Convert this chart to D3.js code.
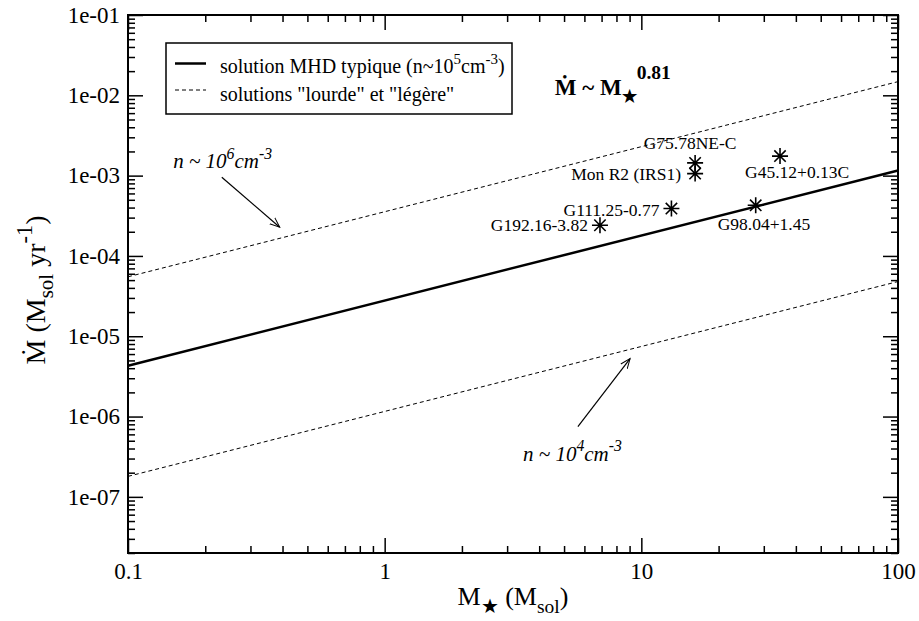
<!DOCTYPE html>
<html><head><meta charset="utf-8">
<script src="https://cdn.jsdelivr.net/npm/d3@7"></script>
<style>
html,body{margin:0;padding:0;background:#fff;}
svg text, svg tspan{font-family:"Liberation Serif","Times New Roman","DejaVu Serif",serif !important;}
</style></head>
<body><svg id="c" width="919" height="621"></svg>
<script>
// ---- data ----
const massRange = [0.1, 100];
const mdotTypical = [4.3e-6, 1.16e-3];   // solution MHD typique (n~1e5)
const mdotHeavy   = [5.5e-5, 1.48e-2];   // n~1e6
const mdotLight   = [1.8e-7, 4.8e-5];    // n~1e4
const objNames = ["G75.78NE-C","Mon R2 (IRS1)","G45.12+0.13C","G111.25-0.77","G192.16-3.82","G98.04+1.45"];
const objMass  = [16.2, 16.2, 34.7, 13.1, 6.9, 27.9];
const objMdot  = [1.44e-3, 1.06e-3, 1.75e-3, 3.89e-4, 2.41e-4, 4.27e-4];
const xTickValues = [0.1, 1, 10, 100];
const xTickLabels = ["0.1", "1", "10", "100"];
const yTickValues = [1e-7, 1e-6, 1e-5, 1e-4, 1e-3, 1e-2, 1e-1];
const yTickLabels = ["1e-07","1e-06","1e-05","1e-04","1e-03","1e-02","1e-01"];
const xDomain = [0.1, 100];
const yDomain = [2e-8, 1e-1];
// annotation anchors (data coordinates)
const annHeavy = {text:[0.15,1.24e-3], tail:[0.232,9.55e-4], head:[0.39,2.28e-4]};
const annLight = {text:[3.46,2.82e-7], tail:[5.66,7.5e-7], head:[9.04,5.28e-6]};
const formulaPos = [4.6, 1.0e-2];

// ---- layout ----
const L=128, R=898, T=15, B=553;
const svg = d3.select("#c");
const x = d3.scaleLog().domain(xDomain).range([L,R]);
const y = d3.scaleLog().domain(yDomain).range([B,T]);

// minor ticks
const xMinor=[], yMinor=[];
for (let k=-1;k<=1;k++) for (let m=2;m<=9;m++) xMinor.push(m*Math.pow(10,k));
for (let k=-8;k<=-2;k++) for (let m=2;m<=9;m++){const v=m*Math.pow(10,k); if(v>=yDomain[0]*0.999 && v<=yDomain[1]) yMinor.push(v);}

function styleAxis(g){ g.select(".domain").remove(); g.selectAll(".tick line").attr("stroke","#000").attr("stroke-width",1.5); }

const axes = [
  [d3.axisBottom(x).tickValues(xTickValues).tickSizeInner(-15).tickSizeOuter(0).tickPadding(10).tickFormat((d,i)=>xTickLabels[i]), `translate(0,${B})`],
  [d3.axisBottom(x).tickValues(xMinor).tickSizeInner(-7).tickSizeOuter(0).tickFormat(""), `translate(0,${B})`],
  [d3.axisTop(x).tickValues(xTickValues).tickSizeInner(-15).tickSizeOuter(0).tickFormat(""), `translate(0,${T})`],
  [d3.axisTop(x).tickValues(xMinor).tickSizeInner(-7).tickSizeOuter(0).tickFormat(""), `translate(0,${T})`],
  [d3.axisLeft(y).tickValues(yTickValues).tickSizeInner(-15).tickSizeOuter(0).tickPadding(8).tickFormat((d,i)=>yTickLabels[i]), `translate(${L},0)`],
  [d3.axisLeft(y).tickValues(yMinor).tickSizeInner(-7).tickSizeOuter(0).tickFormat(""), `translate(${L},0)`],
  [d3.axisRight(y).tickValues(yTickValues).tickSizeInner(-15).tickSizeOuter(0).tickFormat(""), `translate(${R},0)`],
  [d3.axisRight(y).tickValues(yMinor).tickSizeInner(-7).tickSizeOuter(0).tickFormat(""), `translate(${R},0)`]
];
axes.forEach(([ax,tr])=>{
  const g = svg.append("g").attr("transform",tr).call(ax).call(styleAxis);
  g.attr("font-family","Liberation Serif");
  g.selectAll("text").attr("font-size",23).attr("fill","#000");
});

// frame
svg.append("rect").attr("x",L).attr("y",T).attr("width",R-L).attr("height",B-T)
  .attr("fill","none").attr("stroke","#000").attr("stroke-width",2);

// lines
const line = d3.line().x(d=>x(d[0])).y(d=>y(d[1]));
const mk = arr => massRange.map((m,i)=>[m,arr[i]]);
svg.append("path").attr("d",line(mk(mdotTypical))).attr("fill","none").attr("stroke","#000").attr("stroke-width",2.5);
svg.append("path").attr("d",line(mk(mdotHeavy))).attr("fill","none").attr("stroke","#000").attr("stroke-width",1).attr("stroke-dasharray","4,3");
svg.append("path").attr("d",line(mk(mdotLight))).attr("fill","none").attr("stroke","#000").attr("stroke-width",1).attr("stroke-dasharray","4,3");

// stars
const starPath = "M0,-8V8M-8,0H8M-5.7,-5.7L5.7,5.7M-5.7,5.7L5.7,-5.7";
const labelOff = [
  {dx:-5, dy:-14, a:"middle"},
  {dx:-14, dy:6, a:"end"},
  {dx:-35, dy:22, a:"start"},
  {dx:-12, dy:7, a:"end"},
  {dx:-12, dy:6, a:"end"},
  {dx:-38, dy:25, a:"start"}
];
objNames.forEach((n,i)=>{
  const cx=x(objMass[i]), cy=y(objMdot[i]);
  svg.append("path").attr("d",starPath).attr("transform",`translate(${cx},${cy})`).attr("stroke","#000").attr("stroke-width",1.6);
  svg.append("text").attr("x",cx+labelOff[i].dx).attr("y",cy+labelOff[i].dy).attr("text-anchor",labelOff[i].a)
    .attr("font-size",17.5).text(n);
});

// rich text helper
function rich(sel, segs, size){
  let cur=0;
  segs.forEach(s=>{
    let shift=0, fs=size;
    if(s.sup){shift=-(s.sup===true?0.45:s.sup)*size; fs=size*(s.fs||0.75);}
    if(s.sub){shift=0.3*size; fs=size*(s.fs||0.75);}
    sel.append("tspan").attr("dy",shift-cur).attr("font-size",fs).text(s.t);
    cur=shift;
  });
}

// legend
svg.append("rect").attr("x",166).attr("y",43).attr("width",346).attr("height",71)
  .attr("fill","#fff").attr("stroke","#000").attr("stroke-width",1.5);
svg.append("line").attr("x1",175).attr("x2",206).attr("y1",63.5).attr("y2",63.5).attr("stroke","#000").attr("stroke-width",2.5);
svg.append("line").attr("x1",175).attr("x2",206).attr("y1",90).attr("y2",90).attr("stroke","#000").attr("stroke-width",1).attr("stroke-dasharray","4,3");
rich(svg.append("text").attr("x",220).attr("y",73).attr("font-size",20),
  [{t:"solution MHD typique (n~10"},{t:"5",sup:true},{t:"cm"},{t:"-3",sup:true},{t:")"}],20);
svg.append("text").attr("x",220).attr("y",101).attr("font-size",20).text('solutions "lourde" et "légère"');

// formula
rich(svg.append("text").attr("x",x(formulaPos[0])).attr("y",y(formulaPos[1])).attr("font-size",23).attr("font-weight","bold"),
  [{t:"Ṁ ~ M"},{t:"★",sub:true},{t:"0.81",sup:0.7,fs:0.85}],23);

// annotations
const defs = svg.append("defs");
defs.append("marker").attr("id","arr").attr("viewBox","-10 -5 12 10").attr("refX",0).attr("refY",0)
  .attr("markerWidth",12).attr("markerHeight",10).attr("markerUnits","userSpaceOnUse").attr("orient","auto")
  .append("path").attr("d","M-10,-4L0,0L-10,4").attr("fill","none").attr("stroke","#000").attr("stroke-width",1);
[annHeavy, annLight].forEach((a,i)=>{
  svg.append("line").attr("x1",x(a.tail[0])).attr("y1",y(a.tail[1])).attr("x2",x(a.head[0])).attr("y2",y(a.head[1]))
    .attr("stroke","#000").attr("stroke-width",1.2).attr("marker-end","url(#arr)");
  rich(svg.append("text").attr("x",x(a.text[0])).attr("y",y(a.text[1])).attr("font-size",21).attr("font-style","italic"),
    [{t:"n ~ 10"},{t:i===0?"6":"4",sup:true},{t:"cm"},{t:"-3",sup:true}],21);
});

// axis titles
rich(svg.append("text").attr("x",513).attr("y",605).attr("text-anchor","middle").attr("font-size",26),
  [{t:"M"},{t:"★",sub:true},{t:" (M"},{t:"sol",sub:true},{t:")"}],26);
rich(svg.append("text").attr("transform","translate(45,290) rotate(-90)").attr("text-anchor","middle").attr("font-size",28),
  [{t:"Ṁ (M"},{t:"sol",sub:true},{t:" yr"},{t:"-1",sup:true,fs:0.8},{t:")"}],28);
</script></body></html>
